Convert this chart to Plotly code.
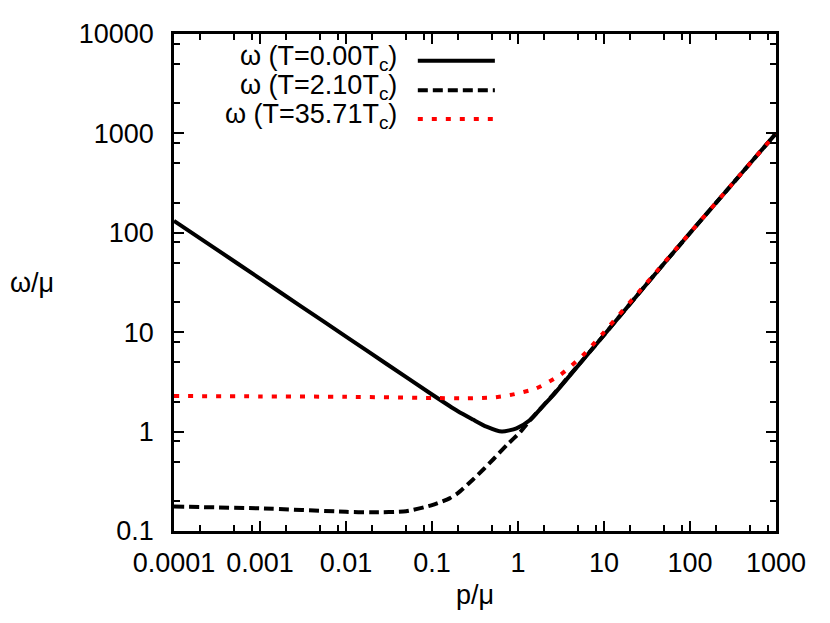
import plotly.graph_objects as go

# p/mu values and omega/mu
p_t0 = [1e-4, 3e-4, 1e-3, 3e-3, 1e-2, 3e-2, 0.1, 0.2, 0.3, 0.43, 0.65, 0.96,
        1.38, 2.0, 2.57, 4.0, 9.0, 30, 100, 300, 1000]
w_t0 = [132, 69.8, 34.6, 18.2, 9.04, 4.76, 2.36, 1.6, 1.32, 1.12, 1.0, 1.08,
        1.31, 1.85, 2.33, 3.66, 8.4, 29.2, 99.5, 299, 1000]

p_t2 = [1e-4, 1e-3, 1e-2, 0.02, 0.05, 0.1, 0.16, 0.2, 0.3, 0.4, 0.52, 0.75,
        1.05, 1.38, 2.57, 4.0, 9.0, 30, 100, 300, 1000]
w_t2 = [0.176, 0.169, 0.156, 0.154, 0.158, 0.182, 0.213, 0.24, 0.33, 0.42, 0.53, 0.74,
        0.98, 1.3, 2.36, 3.7, 8.4, 29.2, 99.5, 299, 1000]

p_t35 = [1e-4, 1e-3, 1e-2, 0.1, 0.26, 0.5, 0.81, 1.64, 3.08, 5.74, 7.85, 10,
         30, 100, 300, 1000]
w_t35 = [2.28, 2.26, 2.24, 2.18, 2.16, 2.2, 2.33, 2.73, 3.7, 5.9, 7.9, 10.0,
         30, 100, 300, 1000]

labels = ['ω (T=0.00T<sub>c</sub>)', 'ω (T=2.10T<sub>c</sub>)', 'ω (T=35.71T<sub>c</sub>)']
colors = ['black', 'black', 'rgb(255,0,0)']
dashes = ['solid', '10px,5px', '5px,9px']

x_major = [1e-4, 1e-3, 1e-2, 0.1, 1, 10, 100, 1000]
x_text = ['0.0001', '0.001', '0.01', '0.1', '1', '10', '100', '1000']
y_major = [0.1, 1, 10, 100, 1000, 10000]
y_text = ['0.1', '1', '10', '100', '1000', '10000']

# gnuplot key puts minor ticks at 2, 5 and 8 of each decade
x_minor = [m * 10.0 ** e for e in range(-4, 3) for m in (2, 5, 8)]
y_minor = [m * 10.0 ** e for e in range(-1, 4) for m in (2, 5, 8)]

FS = 27

fig = go.Figure()
for px_, py_, c, d in zip([p_t0, p_t2, p_t35], [w_t0, w_t2, w_t35], colors, dashes):
    fig.add_trace(go.Scatter(x=px_, y=py_, mode='lines', showlegend=False,
                             line=dict(color=c, width=4, dash=d, shape='spline', smoothing=0.6)))

# gnuplot style key: text right aligned, line sample to the right
rows = [0.952, 0.893, 0.835]
for lab, c, d, yy in zip(labels, colors, dashes, rows):
    fig.add_annotation(x=0.374, y=yy, xref='paper', yref='paper', text=lab,
                       showarrow=False, xanchor='right', yanchor='middle',
                       font=dict(size=FS, color='black'))
    fig.add_shape(type='line', xref='paper', yref='paper', x0=0.405, x1=0.533,
                  y0=yy - 0.006, y1=yy - 0.006, line=dict(color=c, width=4, dash=d))

axis_common = dict(type='log', showline=True, linecolor='black', linewidth=2.5,
                   mirror='allticks', ticks='inside', ticklen=10, tickwidth=2,
                   tickcolor='black', showgrid=False, zeroline=False, automargin=False,
                   tickfont=dict(size=FS, color='black'))
minor_common = dict(tickmode='array', ticks='inside', ticklen=6, tickwidth=2,
                    tickcolor='black')

# page body has an 8px margin, so the figure is sized to fit the window
fig.update_layout(
    width=822, height=615,
    margin=dict(l=166, r=54, t=26, b=92),
    paper_bgcolor='white', plot_bgcolor='white',
    font=dict(family='Liberation Sans, Arial, sans-serif', size=FS, color='black'),
    xaxis=dict(range=[-4, 3], tickmode='array', tickvals=x_major, ticktext=x_text,
               ticklabelstandoff=6,
               title=dict(text='p/μ', font=dict(size=FS), standoff=8),
               minor=dict(tickvals=x_minor, **minor_common),
               **axis_common),
    yaxis=dict(range=[-1, 4], tickmode='array', tickvals=y_major, ticktext=y_text,
               ticklabelstandoff=12,
               minor=dict(tickvals=y_minor, **minor_common),
               **axis_common),
)
fig.add_annotation(x=-166 / 602, y=0.5, xref='paper', yref='paper', text='ω/μ',
                   showarrow=False, xanchor='left', yanchor='middle',
                   font=dict(size=FS))

fig.write_html("out.html")
